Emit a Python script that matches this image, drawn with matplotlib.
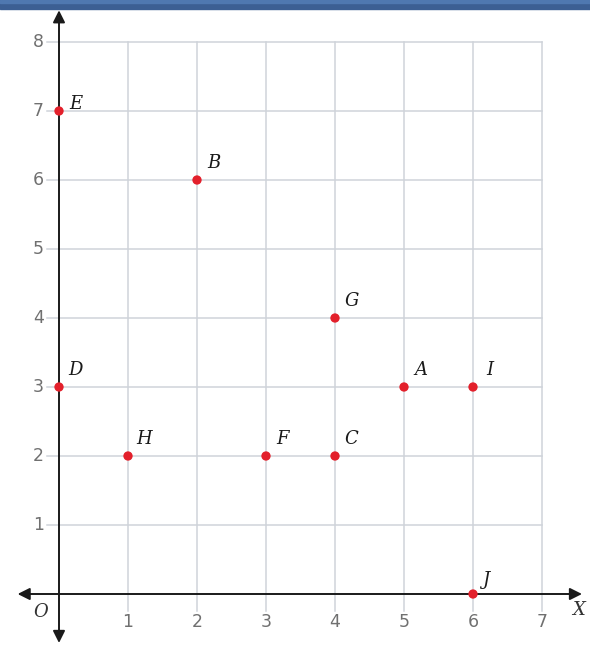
import matplotlib.pyplot as plt
from matplotlib.patches import FancyArrowPatch, Rectangle

# points on the grid
names = ["A", "B", "C", "D", "E", "F", "G", "H", "I", "J"]
xs = [5, 2, 4, 0, 0, 3, 4, 1, 6, 6]
ys = [3, 6, 2, 3, 7, 2, 4, 2, 3, 0]

xticks = [1, 2, 3, 4, 5, 6, 7]
yticks = [1, 2, 3, 4, 5, 6, 7, 8]

fig = plt.figure(figsize=(5.9, 6.5), dpi=100)
ax = fig.add_axes([0, 0, 1, 1])
ax.set_xlim(-59 / 69, 531 / 69)
ax.set_ylim(-56 / 69, 594 / 69)
ax.axis("off")

grid_c = "#cfd3da"
for x in xticks:
    ax.plot([x, x], [-0.25, 8], color=grid_c, lw=1.1, zorder=1)
for y in yticks:
    ax.plot([-0.17, 7], [y, y], color=grid_c, lw=1.1, zorder=1)

# axes with arrow heads
ax.add_patch(FancyArrowPatch((-0.64, 0), (7.62, 0), arrowstyle="<|-|>",
                             mutation_scale=18, color="#1a1a1a", lw=1.4, zorder=2))
ax.add_patch(FancyArrowPatch((0, -0.75), (0, 8.5), arrowstyle="<|-|>",
                             mutation_scale=18, color="#1a1a1a", lw=1.4, zorder=2))

tick_c = "#707070"
for x in xticks:
    ax.text(x, -0.4, str(x), ha="center", va="center", fontsize=12.5, color=tick_c)
for y in yticks:
    ax.text(-0.3, y, str(y), ha="center", va="center", fontsize=12.5, color=tick_c)

ax.text(-0.27, -0.26, "O", ha="center", va="center", fontsize=13,
        family="DejaVu Serif", style="italic", color="#333333")
ax.text(7.53, -0.23, "X", ha="center", va="center", fontsize=13,
        family="DejaVu Serif", style="italic", color="#333333")

ax.scatter(xs, ys, s=45, color="#e3202b", zorder=3, edgecolors="none")
for n, x, y in zip(names, xs, ys):
    dx, dy = 0.24, 0.25
    if n == "E":
        dy = 0.1
    if n == "J":
        dx, dy = 0.18, 0.2
    ax.text(x + dx, y + dy, n, ha="center", va="center", fontsize=13,
            family="DejaVu Serif", style="italic", color="#1a1a1a")

# blue band at the top
fig.patches.append(Rectangle((0, 1 - 9 / 650), 1, 9 / 650, transform=fig.transFigure,
                             color="#3c5f93", zorder=5))
fig.patches.append(Rectangle((0, 1 - 3 / 650), 1, 3 / 650, transform=fig.transFigure,
                             color="#4f78b0", zorder=6))

fig.savefig("out.png", dpi=100)
